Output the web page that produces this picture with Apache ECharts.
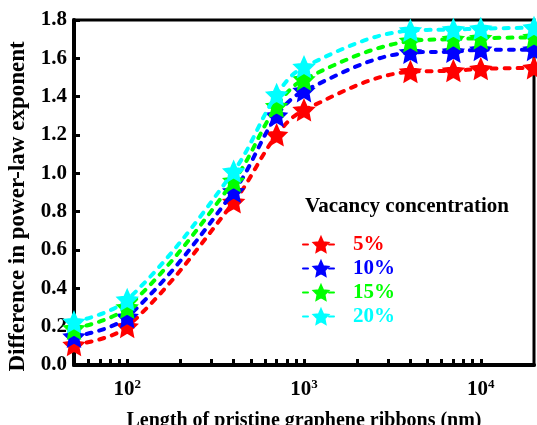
<!DOCTYPE html>
<html>
<head>
<meta charset="utf-8">
<script src="https://cdn.jsdelivr.net/npm/echarts@6.0.0/dist/echarts.min.js"></script>
<style>
  html, body { margin: 0; padding: 0; background: #fff; }
  #chart { width: 537px; height: 425px; }
</style>
</head>
<body>
<div id="chart"></div>
<script>
// ribbon length (nm), log axis
var lengths = [50, 100, 400, 700, 1000, 4000, 7000, 10000, 20000];
var vac5 = [0.105, 0.20, 0.85, 1.20, 1.33, 1.53, 1.535, 1.545, 1.55];
var vac10 = [0.148, 0.25, 0.905, 1.30, 1.43, 1.63, 1.635, 1.645, 1.645];
var vac15 = [0.19, 0.30, 0.96, 1.35, 1.49, 1.69, 1.70, 1.705, 1.71];
var vac20 = [0.224, 0.34, 1.01, 1.41, 1.555, 1.745, 1.75, 1.755, 1.76];
var seriesNames = ['5%', '10%', '15%', '20%'];
var seriesColors = ['#ff0000', '#0000ff', '#00ff00', '#00ffff'];
var xLabelTicks = [100, 1000, 10000];
var xMinorTicks = [60, 70, 80, 90, 100, 200, 300, 400, 500, 600, 700, 800, 900, 1000,
	2000, 3000, 4000, 5000, 6000, 7000, 8000, 9000, 10000];

var star = 'path://M50 0 L64.11 30.58 L97.55 34.55 L72.83 57.42 L79.39 90.45 L50 74 ' +
	'L20.61 90.45 L27.17 57.42 L2.45 34.55 L35.89 30.58 Z';
var font = '"Liberation Serif", "Times New Roman", serif';

var pairs = function(ys) {
	return lengths.map(function(x, i) { return [x, ys[i]]; });
};

var allValues = [vac5, vac10, vac15, vac20];
var series = allValues.map(function(ys, i) {
	return {
		name : seriesNames[i],
		type : 'line',
		data : pairs(ys),
		smooth : 0.35,
		symbol : star,
		symbolSize : 19,
		lineStyle : {
			color : seriesColors[i],
			width : 4,
			type : [5, 8],
			cap : 'round'
		},
		itemStyle : {
			color : seriesColors[i],
			borderColor : seriesColors[i],
			borderWidth : 2
		},
		z : 2 + i
	};
});

var chart = echarts.init(document.getElementById('chart'));
chart.setOption({
	animation : false,
	textStyle : { fontFamily : font },
	grid : {
		left : 74,
		right : 3,
		top : 20,
		bottom : 60,
		outerBoundsMode : 'none',
		containLabel : false,
		show : true,
		borderColor : '#000',
		borderWidth : 3
	},
	title : {
		text : 'Vacancy concentration',
		left : 305,
		top : 196,
		padding : 0,
		textStyle : { fontFamily : font, fontSize : 21, fontWeight : 'bold', color : '#000' }
	},
	legend : {
		orient : 'vertical',
		left : 302,
		top : 234,
		padding : 0,
		itemWidth : 36,
		itemHeight : 18,
		itemGap : 3,
		data : seriesNames.map(function(n, i) {
			return { name : n, textStyle : { color : seriesColors[i] } };
		}),
		textStyle : { fontFamily : font, fontSize : 21, fontWeight : 'bold', padding : [0, 0, 0, 9] }
	},
	xAxis : {
		type : 'log',
		logBase : 10,
		min : 50,
		max : 20000,
		name : 'Length of pristine graphene ribbons (nm)',
		nameLocation : 'middle',
		nameGap : 46,
		nameTextStyle : { fontFamily : font, fontSize : 20, fontWeight : 'bold', color : '#000' },
		axisLine : { lineStyle : { color : '#000', width : 4 } },
		axisTick : {
			inside : true,
			length : 6,
			customValues : xMinorTicks,
			lineStyle : { color : '#000', width : 3 }
		},
		axisLabel : {
			customValues : xLabelTicks,
			margin : 13,
			color : '#000',
			fontFamily : font,
			fontSize : 21,
			fontWeight : 'bold',
			formatter : function(v) {
				return '10{s|' + Math.round(Math.log10(v)) + '}';
			},
			rich : {
				s : { fontFamily : font, fontSize : 13, fontWeight : 'bold', color : '#000', verticalAlign : 'top', padding : [0, 0, 10, 0] }
			}
		},
		splitLine : { show : false }
	},
	yAxis : {
		type : 'value',
		min : 0,
		max : 1.8,
		interval : 0.2,
		name : 'Difference in power-law exponent',
		nameLocation : 'middle',
		nameGap : 41,
		nameTextStyle : { fontFamily : font, fontSize : 23, fontWeight : 'bold', color : '#000', padding : [0, 28, 0, 0] },
		axisLine : { show : true, lineStyle : { color : '#000', width : 4 } },
		axisTick : { show : true, inside : true, length : 6, lineStyle : { color : '#000', width : 3 } },
		axisLabel : {
			margin : 7,
			color : '#000',
			fontFamily : font,
			fontSize : 21,
			fontWeight : 'bold',
			formatter : function(v) { return v.toFixed(1); }
		},
		splitLine : { show : false }
	},
	series : series
});
</script>
</body>
</html>
